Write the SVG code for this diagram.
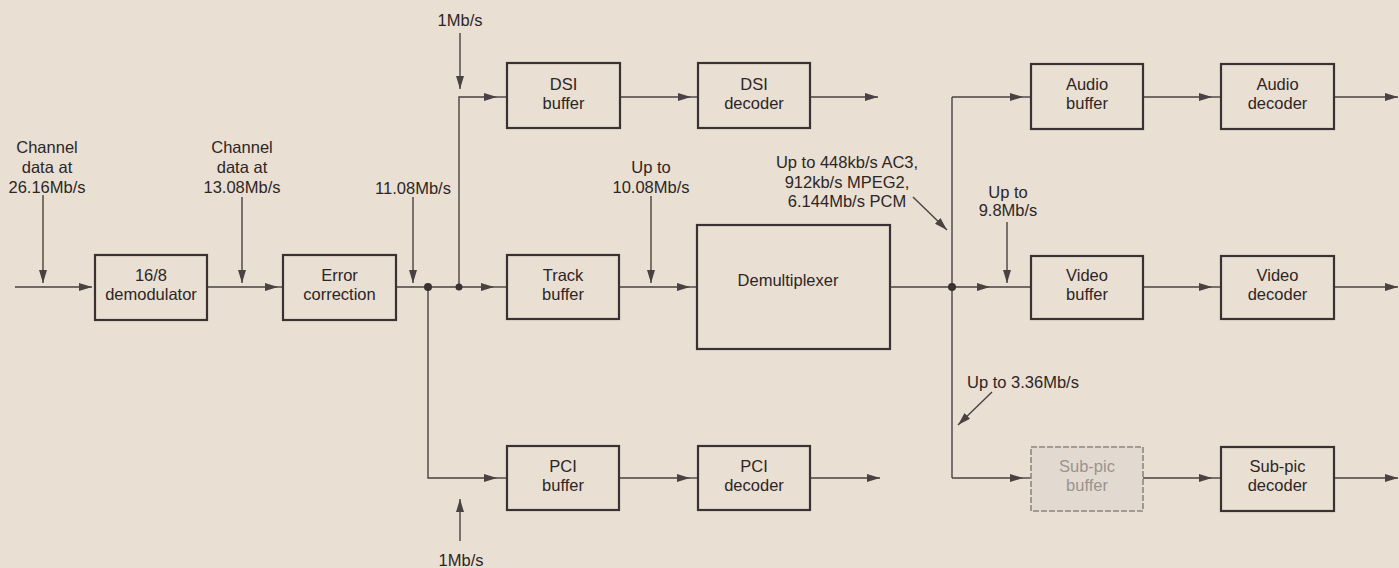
<svg xmlns="http://www.w3.org/2000/svg" width="1399" height="568" viewBox="0 0 1399 568">
<defs>
<marker id="ah" markerUnits="userSpaceOnUse" markerWidth="13" markerHeight="8" refX="13" refY="4" orient="auto">
<path d="M0,0 L13,4 L0,8 z" fill="#4a4242"/>
</marker>
<style>
.bg{fill:#e9dfd3}
.box{fill:none;stroke:#3a3232;stroke-width:2.2}
.ghost{fill:#e2dad1;stroke:#8d8680;stroke-width:1.6;stroke-dasharray:6 2}
.ln{fill:none;stroke:#4a4242;stroke-width:1.4}
.ar{fill:none;stroke:#4a4242;stroke-width:1.4;marker-end:url(#ah)}
.dot{fill:#3a3232}
text{font-family:"Liberation Sans",Arial,sans-serif;font-size:16.5px;fill:#2d2626;text-anchor:middle}
.gt{fill:#9a938d}
.st{text-anchor:start}
</style>
</defs>
<rect class="bg" x="0" y="0" width="1399" height="568"/>

<g id="connectors">
<!-- input -->
<path class="ar" d="M15,287 H92"/>
<path class="ar" d="M43,195 V283"/>
<!-- demod to error correction -->
<path class="ar" d="M207,287 H278"/>
<path class="ln" d="M278,287 H283"/>
<path class="ar" d="M242,197 V283"/>
<!-- error correction to track buffer -->
<path class="ar" d="M396,287 H494"/>
<path class="ln" d="M494,287 H507"/>
<path class="ar" d="M413,197 V283"/>
<!-- branch up to DSI -->
<path class="ar" d="M459,287 V97 H497"/>
<path class="ln" d="M497,97 H507"/>
<path class="ar" d="M460,33 V89"/>
<!-- DSI buffer to decoder -->
<path class="ar" d="M620,97 H691"/>
<path class="ln" d="M691,97 H698"/>
<path class="ar" d="M810,97 H878"/>
<!-- track buffer to demux -->
<path class="ar" d="M619,287 H690"/>
<path class="ln" d="M690,287 H697"/>
<path class="ar" d="M651,196 V283"/>
<!-- branch down to PCI -->
<path class="ar" d="M428,287 V478 H497"/>
<path class="ln" d="M497,478 H507"/>
<path class="ar" d="M460,541 V499"/>
<!-- PCI buffer to decoder -->
<path class="ar" d="M619,478 H690"/>
<path class="ln" d="M690,478 H698"/>
<path class="ar" d="M810,478 H880"/>
<!-- demux out -->
<path class="ln" d="M890,287 H952"/>
<path class="ln" d="M952,97 V478"/>
<path class="ar" d="M952,97 H1023"/>
<path class="ln" d="M1023,97 H1031"/>
<path class="ar" d="M952,287 H990"/>
<path class="ln" d="M990,287 H1031"/>
<path class="ar" d="M952,478 H1023"/>
<path class="ln" d="M1023,478 H1031"/>
<path class="ar" d="M1007,222 V283"/>
<path class="ar" d="M913,197 L947,230"/>
<path class="ar" d="M992,392 L958,425"/>
<!-- buffers to decoders -->
<path class="ar" d="M1143,97 H1212"/>
<path class="ln" d="M1212,97 H1221"/>
<path class="ar" d="M1143,287 H1212"/>
<path class="ln" d="M1212,287 H1221"/>
<path class="ar" d="M1143,478 H1212"/>
<path class="ln" d="M1212,478 H1221"/>
<!-- outputs -->
<path class="ar" d="M1334,97 H1398"/>
<path class="ar" d="M1334,287 H1398"/>
<path class="ar" d="M1334,478 H1398"/>
<!-- junction dots -->
<circle class="dot" cx="428" cy="287" r="4"/>
<circle class="dot" cx="459" cy="287" r="3.5"/>
<circle class="dot" cx="952" cy="287" r="4"/>
</g>

<g id="labels">
<text x="47" y="153">Channel</text>
<text x="47" y="173">data at</text>
<text x="47" y="193">26.16Mb/s</text>
<text x="242" y="153">Channel</text>
<text x="242" y="173">data at</text>
<text x="242" y="193">13.08Mb/s</text>
<text x="413" y="194">11.08Mb/s</text>
<text x="460" y="26">1Mb/s</text>
<text x="461" y="566">1Mb/s</text>
<text x="651" y="173">Up to</text>
<text x="651" y="193">10.08Mb/s</text>
<text x="847" y="168">Up to 448kb/s AC3,</text>
<text x="847" y="188">912kb/s MPEG2,</text>
<text x="847" y="207">6.144Mb/s PCM</text>
<text x="1008" y="198">Up to</text>
<text x="1008" y="216">9.8Mb/s</text>
<text class="st" x="967" y="388">Up to 3.36Mb/s</text>
</g>

<g id="demodulator">
<rect class="box" x="95" y="255" width="112" height="65"/>
<text x="151" y="281">16/8</text>
<text x="151" y="300">demodulator</text>
</g>
<g id="error-correction">
<rect class="box" x="283" y="255" width="113" height="65"/>
<text x="339.5" y="281">Error</text>
<text x="339.5" y="300">correction</text>
</g>
<g id="dsi-buffer">
<rect class="box" x="507" y="63" width="113" height="65"/>
<text x="563.5" y="90">DSI</text>
<text x="563.5" y="109">buffer</text>
</g>
<g id="dsi-decoder">
<rect class="box" x="698" y="63" width="112" height="65"/>
<text x="754" y="90">DSI</text>
<text x="754" y="109">decoder</text>
</g>
<g id="track-buffer">
<rect class="box" x="507" y="255" width="112" height="64"/>
<text x="563" y="281">Track</text>
<text x="563" y="300">buffer</text>
</g>
<g id="demultiplexer">
<rect class="box" x="697" y="225" width="193" height="124"/>
<text x="788" y="286">Demultiplexer</text>
</g>
<g id="pci-buffer">
<rect class="box" x="507" y="446" width="112" height="64"/>
<text x="563" y="472">PCI</text>
<text x="563" y="491">buffer</text>
</g>
<g id="pci-decoder">
<rect class="box" x="698" y="446" width="112" height="64"/>
<text x="754" y="472">PCI</text>
<text x="754" y="491">decoder</text>
</g>
<g id="audio-buffer">
<rect class="box" x="1031" y="64" width="112" height="65"/>
<text x="1087" y="90">Audio</text>
<text x="1087" y="109">buffer</text>
</g>
<g id="audio-decoder">
<rect class="box" x="1221" y="64" width="113" height="65"/>
<text x="1277.5" y="90">Audio</text>
<text x="1277.5" y="109">decoder</text>
</g>
<g id="video-buffer">
<rect class="box" x="1031" y="256" width="112" height="63"/>
<text x="1087" y="281">Video</text>
<text x="1087" y="300">buffer</text>
</g>
<g id="video-decoder">
<rect class="box" x="1221" y="256" width="113" height="63"/>
<text x="1277.5" y="281">Video</text>
<text x="1277.5" y="300">decoder</text>
</g>
<g id="subpic-buffer">
<rect class="ghost" x="1031" y="447" width="112" height="64"/>
<text class="gt" x="1087" y="472">Sub-pic</text>
<text class="gt" x="1087" y="491">buffer</text>
</g>
<g id="subpic-decoder">
<rect class="box" x="1221" y="447" width="113" height="64"/>
<text x="1277.5" y="472">Sub-pic</text>
<text x="1277.5" y="491">decoder</text>
</g>
</svg>
